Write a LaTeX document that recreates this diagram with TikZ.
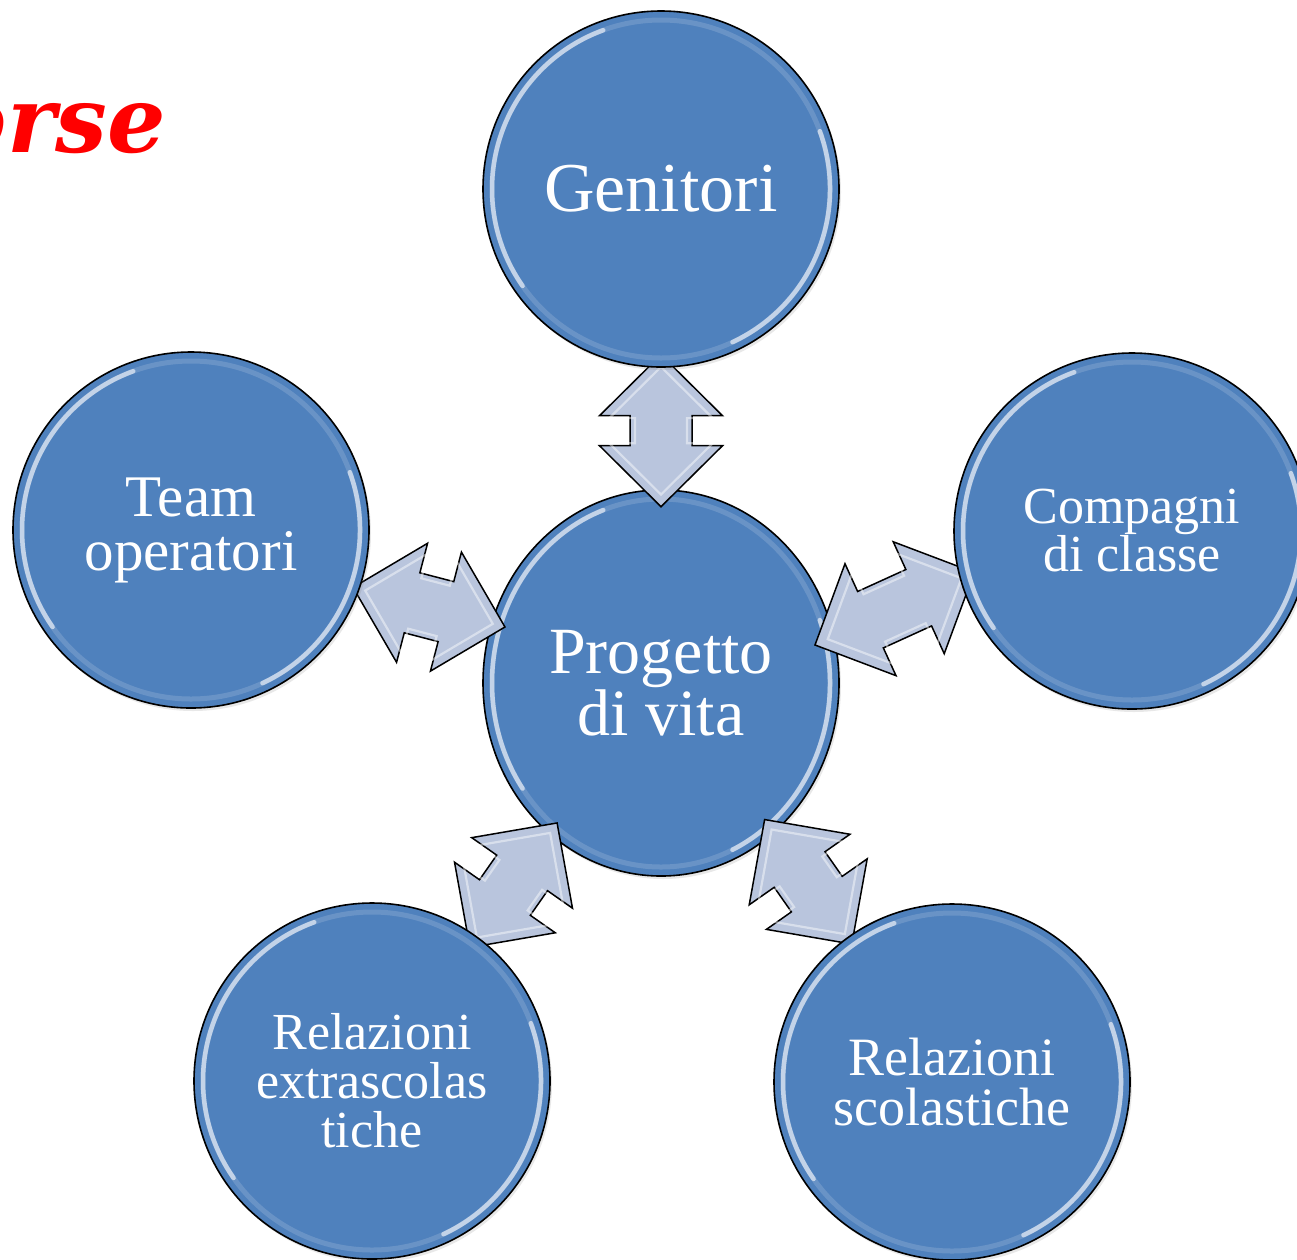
\documentclass[tikz,border=0pt]{standalone}
\usepackage{fontspec}
\setmainfont{Liberation Serif}
\newfontfamily\titlefont{DejaVu Serif}
\usetikzlibrary{shapes.geometric,shadows}
\definecolor{ballblue}{RGB}{79,129,189}
\definecolor{arrowfill}{RGB}{185,197,221}
\definecolor{titlered}{RGB}{255,0,0}
\tikzset{
  ball/.style={circle, draw=black, line width=1.6pt, fill=ballblue, minimum size=356pt,
    inner sep=0pt, text=white, align=center,
    drop shadow={opacity=0.18, shadow xshift=2pt, shadow yshift=-3pt}},
  hub/.style={ellipse, draw=black, line width=1.6pt, fill=ballblue, minimum width=356pt,
    minimum height=386pt, inner sep=0pt, text=white, align=center,
    drop shadow={opacity=0.18, shadow xshift=2pt, shadow yshift=-3pt}},
  linkarrow/.style={draw=black, line width=1.5pt, fill=arrowfill, line join=miter},
  arrowgloss/.style={draw=white, opacity=0.45, line width=2.2pt},
  gloss/.style={white, opacity=0.6, line width=4.5pt, line cap=round},
  glossfaint/.style={white, opacity=0.15, line width=5pt},
}
% gloss ring of a round node: name, radius
\newcommand{\mkgloss}[2]{%
  \draw[glossfaint] (#1.center) circle[radius=#2];
  \draw[gloss] ([shift={(110:#2)}]#1.center) arc[start angle=110, end angle=215, radius=#2];
  \draw[gloss] ([shift={(-65:#2)}]#1.center) arc[start angle=-65, end angle=20, radius=#2];
}
% double block arrow: coordinate name, rotation, half shaft length
\newcommand{\mklink}[3]{%
  \begin{scope}[shift={(#1)}, rotate=#2]
    \pgfmathsetmacro\hL{61+#3}
    \pgfmathsetmacro\hB{#3}
    \path[linkarrow] (\hL,0) -- (\hB,61.5) -- (\hB,31) -- (-\hB,31) -- (-\hB,61.5)
      -- (-\hL,0) -- (-\hB,-61.5) -- (-\hB,-31) -- (\hB,-31) -- (\hB,-61.5) -- cycle;
    \begin{scope}[scale=0.84]
      \path[arrowgloss] (\hL,0) -- (\hB,61.5) -- (\hB,31) -- (-\hB,31) -- (-\hB,61.5)
        -- (-\hL,0) -- (-\hB,-61.5) -- (-\hB,-31) -- (\hB,-31) -- (\hB,-61.5) -- cycle;
    \end{scope}
  \end{scope}
}
\begin{document}
\begin{tikzpicture}[x=1pt, y=1pt]
\fill[white] (0,-1259) rectangle (1297,0);
\useasboundingbox (0,-1259) rectangle (1297,0);

\node[anchor=base east, inner sep=0pt, text=titlered,
  font=\titlefont\bfseries\itshape\fontsize{92}{92}\selectfont] (title) at (166,-152) {orse};

% hub
\node[hub, font=\fontsize{66}{62}\selectfont] (hub) at (661,-683) {Progetto\\di vita};
\draw[glossfaint] (hub.center) ellipse[x radius=169, y radius=184];
\draw[gloss] ([shift={(110:169 and 184)}]hub.center) arc[start angle=110, end angle=215, x radius=169, y radius=184];
\draw[gloss] ([shift={(-65:169 and 184)}]hub.center) arc[start angle=-65, end angle=20, x radius=169, y radius=184];

% arrow positions
\coordinate (aTop) at (661,-430.7);
\coordinate (aLeft) at (429,-607.2);
\coordinate (aRight) at (894.6,-608.7);
\coordinate (aBL) at (513.5,-885.2);
\coordinate (aBR) at (808.2,-881.8);

\mklink{aTop}{90}{15}
\mklink{aLeft}{-14.6}{17.5}
\mklink{aRight}{24.5}{26.5}
\mklink{aBL}{55}{15}
\mklink{aBR}{-55}{15}

% outer circles
\node[ball, font=\fontsize{70}{66}\selectfont] (gen) at (661,-189) {Genitori};
\mkgloss{gen}{169}
\node[ball, font=\fontsize{59}{54}\selectfont] (team) at (191,-530) {Team\\operatori};
\mkgloss{team}{169}
\node[ball, font=\fontsize{52}{48}\selectfont] (comp) at (1132,-531) {Compagni\\di classe};
\mkgloss{comp}{169}
\node[ball, font=\fontsize{52}{49}\selectfont] (extra) at (372,-1081) {Relazioni\\extrascolas\\tiche};
\mkgloss{extra}{169}
\node[ball, font=\fontsize{54}{50}\selectfont] (scol) at (952,-1082) {Relazioni\\scolastiche};
\mkgloss{scol}{169}
\end{tikzpicture}
\end{document}
